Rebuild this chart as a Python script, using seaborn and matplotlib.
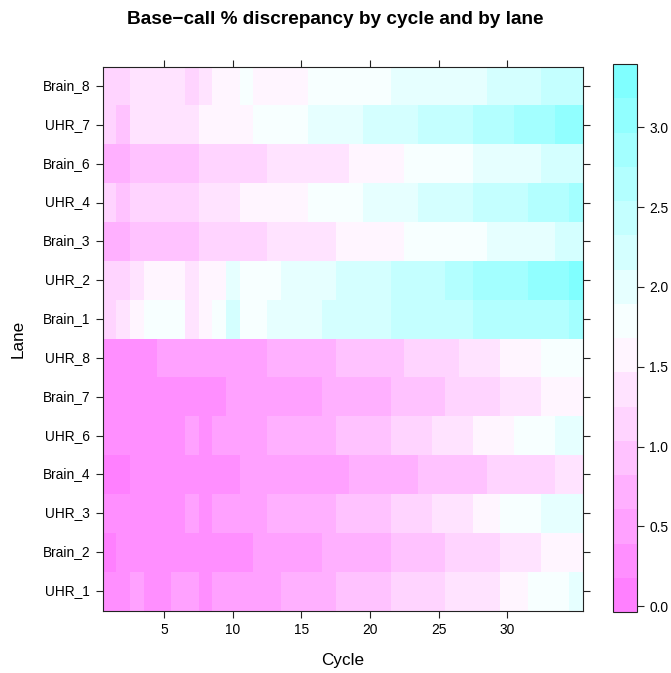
import numpy as np
import pandas as pd
import matplotlib
matplotlib.use("Agg")
import matplotlib.pyplot as plt
from matplotlib.colors import ListedColormap
import seaborn as sns

# ---------------- data ----------------
lanes = ["Brain_8", "UHR_7", "Brain_6", "UHR_4", "Brain_3", "UHR_2", "Brain_1",
         "UHR_8", "Brain_7", "UHR_6", "Brain_4", "UHR_3", "Brain_2", "UHR_1"]
cycles = list(range(1, 36))

brain_8 = [1.14, 1.14, 1.36, 1.36, 1.36, 1.36, 1.14, 1.36, 1.57, 1.57, 1.79, 1.57, 1.57, 1.57, 1.57,
           1.79, 1.79, 1.79, 1.79, 1.79, 1.79, 2.00, 2.00, 2.00, 2.00, 2.00, 2.00, 2.00, 2.22, 2.22,
           2.22, 2.22, 2.43, 2.43, 2.43]
uhr_7 = [1.14, 0.93, 1.36, 1.36, 1.36, 1.36, 1.36, 1.57, 1.57, 1.57, 1.57, 1.79, 1.79, 1.79, 1.79,
         2.00, 2.00, 2.00, 2.00, 2.22, 2.22, 2.22, 2.22, 2.43, 2.43, 2.43, 2.43, 2.65, 2.65, 2.65,
         2.86, 2.86, 2.86, 3.08, 3.08]
brain_6 = [0.71, 0.71, 0.93, 0.93, 0.93, 0.93, 0.93, 1.14, 1.14, 1.14, 1.14, 1.14, 1.36, 1.36, 1.36,
           1.36, 1.36, 1.36, 1.57, 1.57, 1.57, 1.57, 1.79, 1.79, 1.79, 1.79, 1.79, 2.00, 2.00, 2.00,
           2.00, 2.00, 2.22, 2.22, 2.22]
uhr_4 = [1.14, 0.93, 1.14, 1.14, 1.14, 1.14, 1.14, 1.36, 1.36, 1.36, 1.57, 1.57, 1.57, 1.57, 1.57,
         1.79, 1.79, 1.79, 1.79, 2.00, 2.00, 2.00, 2.00, 2.22, 2.22, 2.22, 2.22, 2.43, 2.43, 2.43,
         2.43, 2.65, 2.65, 2.65, 2.86]
brain_3 = [0.71, 0.71, 0.93, 0.93, 0.93, 0.93, 0.93, 1.14, 1.14, 1.14, 1.14, 1.14, 1.36, 1.36, 1.36,
           1.36, 1.36, 1.57, 1.57, 1.57, 1.57, 1.57, 1.79, 1.79, 1.79, 1.79, 1.79, 1.79, 2.00, 2.00,
           2.00, 2.00, 2.00, 2.22, 2.22]
uhr_2 = [1.14, 1.14, 1.36, 1.57, 1.57, 1.57, 1.36, 1.57, 1.57, 2.00, 1.79, 1.79, 1.79, 2.00, 2.00,
         2.00, 2.00, 2.22, 2.22, 2.22, 2.22, 2.43, 2.43, 2.43, 2.43, 2.65, 2.65, 2.86, 2.86, 2.86,
         2.86, 3.08, 3.08, 3.08, 3.29]
brain_1 = [1.14, 1.36, 1.57, 1.79, 1.79, 1.79, 1.36, 1.57, 1.79, 2.22, 1.79, 1.79, 2.00, 2.00, 2.00,
           2.00, 2.22, 2.22, 2.22, 2.22, 2.22, 2.43, 2.43, 2.43, 2.43, 2.43, 2.43, 2.65, 2.65, 2.65,
           2.65, 2.65, 2.65, 2.65, 2.86]
uhr_8 = [0.29, 0.29, 0.29, 0.29, 0.50, 0.50, 0.50, 0.50, 0.50, 0.50, 0.50, 0.50, 0.71, 0.71, 0.71,
         0.71, 0.71, 0.93, 0.93, 0.93, 0.93, 0.93, 1.14, 1.14, 1.14, 1.14, 1.36, 1.36, 1.36, 1.57,
         1.57, 1.57, 1.79, 1.79, 1.79]
brain_7 = [0.29, 0.29, 0.29, 0.29, 0.29, 0.29, 0.29, 0.29, 0.29, 0.50, 0.50, 0.50, 0.50, 0.50, 0.50,
           0.50, 0.71, 0.71, 0.71, 0.71, 0.71, 0.93, 0.93, 0.93, 0.93, 1.14, 1.14, 1.14, 1.14, 1.36,
           1.36, 1.36, 1.57, 1.57, 1.57]
uhr_6 = [0.29, 0.29, 0.29, 0.29, 0.29, 0.29, 0.50, 0.29, 0.50, 0.50, 0.50, 0.50, 0.71, 0.71, 0.71,
         0.71, 0.71, 0.93, 0.93, 0.93, 0.93, 1.14, 1.14, 1.14, 1.36, 1.36, 1.36, 1.57, 1.57, 1.57,
         1.79, 1.79, 1.79, 2.00, 2.00]
brain_4 = [0.07, 0.07, 0.29, 0.29, 0.29, 0.29, 0.29, 0.29, 0.29, 0.29, 0.50, 0.50, 0.50, 0.50, 0.50,
           0.50, 0.50, 0.50, 0.71, 0.71, 0.71, 0.71, 0.71, 0.93, 0.93, 0.93, 0.93, 0.93, 1.14, 1.14,
           1.14, 1.14, 1.14, 1.36, 1.36]
uhr_3 = [0.29, 0.29, 0.29, 0.29, 0.29, 0.29, 0.50, 0.29, 0.50, 0.50, 0.50, 0.50, 0.71, 0.71, 0.71,
         0.71, 0.71, 0.93, 0.93, 0.93, 0.93, 1.14, 1.14, 1.14, 1.36, 1.36, 1.36, 1.57, 1.57, 1.79,
         1.79, 1.79, 2.00, 2.00, 2.00]
brain_2 = [0.07, 0.29, 0.29, 0.29, 0.29, 0.29, 0.29, 0.29, 0.29, 0.29, 0.29, 0.50, 0.50, 0.50, 0.50,
           0.50, 0.71, 0.71, 0.71, 0.71, 0.71, 0.93, 0.93, 0.93, 0.93, 1.14, 1.14, 1.14, 1.14, 1.36,
           1.36, 1.36, 1.57, 1.57, 1.57]
uhr_1 = [0.29, 0.29, 0.50, 0.29, 0.29, 0.50, 0.50, 0.29, 0.50, 0.50, 0.50, 0.50, 0.50, 0.71, 0.71,
         0.71, 0.71, 0.93, 0.93, 0.93, 0.93, 1.14, 1.14, 1.14, 1.14, 1.36, 1.36, 1.36, 1.36, 1.57,
         1.57, 1.79, 1.79, 1.79, 2.00]

rows = [brain_8, uhr_7, brain_6, uhr_4, brain_3, uhr_2, brain_1,
        uhr_8, brain_7, uhr_6, brain_4, uhr_3, brain_2, uhr_1]
df = pd.DataFrame(rows, index=lanes, columns=cycles)

x_ticks = [5, 10, 15, 20, 25, 30]
cbar_ticks = [0.0, 0.5, 1.0, 1.5, 2.0, 2.5, 3.0]
z_min, z_max = -0.036, 3.397

# lattice-like cm.colors palette, 16 levels (magenta -> white -> cyan)
mag_s = [0.50, 0.44, 0.37, 0.31, 0.24, 0.17, 0.11, 0.04]
cyan_s = [0.03, 0.10, 0.17, 0.23, 0.30, 0.36, 0.43, 0.50]
colors = [(1.0, 1.0 - s, 1.0) for s in mag_s] + [(1.0 - s, 1.0, 1.0) for s in cyan_s]
cmap = ListedColormap(colors)

# ---------------- figure ----------------
W, H = 671, 673
sns.set_style("white")
plt.rcParams["font.family"] = ["Liberation Sans", "DejaVu Sans"]
plt.rcParams["text.color"] = "black"
plt.rcParams["xtick.color"] = "black"
plt.rcParams["ytick.color"] = "black"
plt.rcParams["axes.labelcolor"] = "black"
fig = plt.figure(figsize=(W / 100, H / 100), dpi=100)

px_l, px_r, px_t, px_b = 102.5, 582.5, 66.5, 610.5
ax = fig.add_axes([px_l / W, 1 - px_b / H, (px_r - px_l) / W, (px_b - px_t) / H])
cb_l, cb_r, cb_t, cb_b = 613.3, 636.7, 64, 612
cax = fig.add_axes([cb_l / W, 1 - cb_b / H, (cb_r - cb_l) / W, (cb_b - cb_t) / H])

sns.heatmap(df, ax=ax, cbar_ax=cax, cmap=cmap, vmin=z_min, vmax=z_max,
            linewidths=0, xticklabels=False, yticklabels=True)

edge = "#222222"
for sp in ax.spines.values():
    sp.set_visible(True)
    sp.set_color(edge)
    sp.set_linewidth(0.8)

tick_fs = 9.9
ax.set_xticks([c - 0.5 for c in x_ticks])
ax.set_xticklabels([str(c) for c in x_ticks])
ax.set_yticks(np.arange(len(lanes)) + 0.5)
ax.set_yticklabels(lanes, rotation=0)
ax.tick_params(axis="both", which="both", direction="out", length=5, width=0.8,
               color=edge, labelcolor="black", top=True, right=True, bottom=True, left=True,
               labeltop=False, labelright=False, labelsize=tick_fs, pad=4)
ax.set_xlabel("")
ax.set_ylabel("")

cbar = ax.collections[0].colorbar
cbar.outline.set_linewidth(0.8)
cbar.outline.set_edgecolor(edge)
cbar.set_ticks(cbar_ticks)
cbar.set_ticklabels([f"{t:.1f}" for t in cbar_ticks])
cax.tick_params(direction="out", length=5, width=0.8, color=edge, labelcolor="black",
                labelsize=tick_fs, pad=4)

fig.text(0.5, 1 - 24.3 / H, "Base\u2212call % discrepancy by cycle and by lane",
         ha="center", va="baseline", fontsize=13.7, fontweight="bold", color="black")
fig.text((px_l + px_r) / 2 / W, 1 - 660 / H, "Cycle", ha="center", va="center",
         fontsize=12.3, color="black")
fig.text(18 / W, 1 - (px_t + px_b) / 2 / H, "Lane", ha="center", va="center",
         rotation=90, fontsize=12.3, color="black")

fig.savefig("out.png", dpi=100)
